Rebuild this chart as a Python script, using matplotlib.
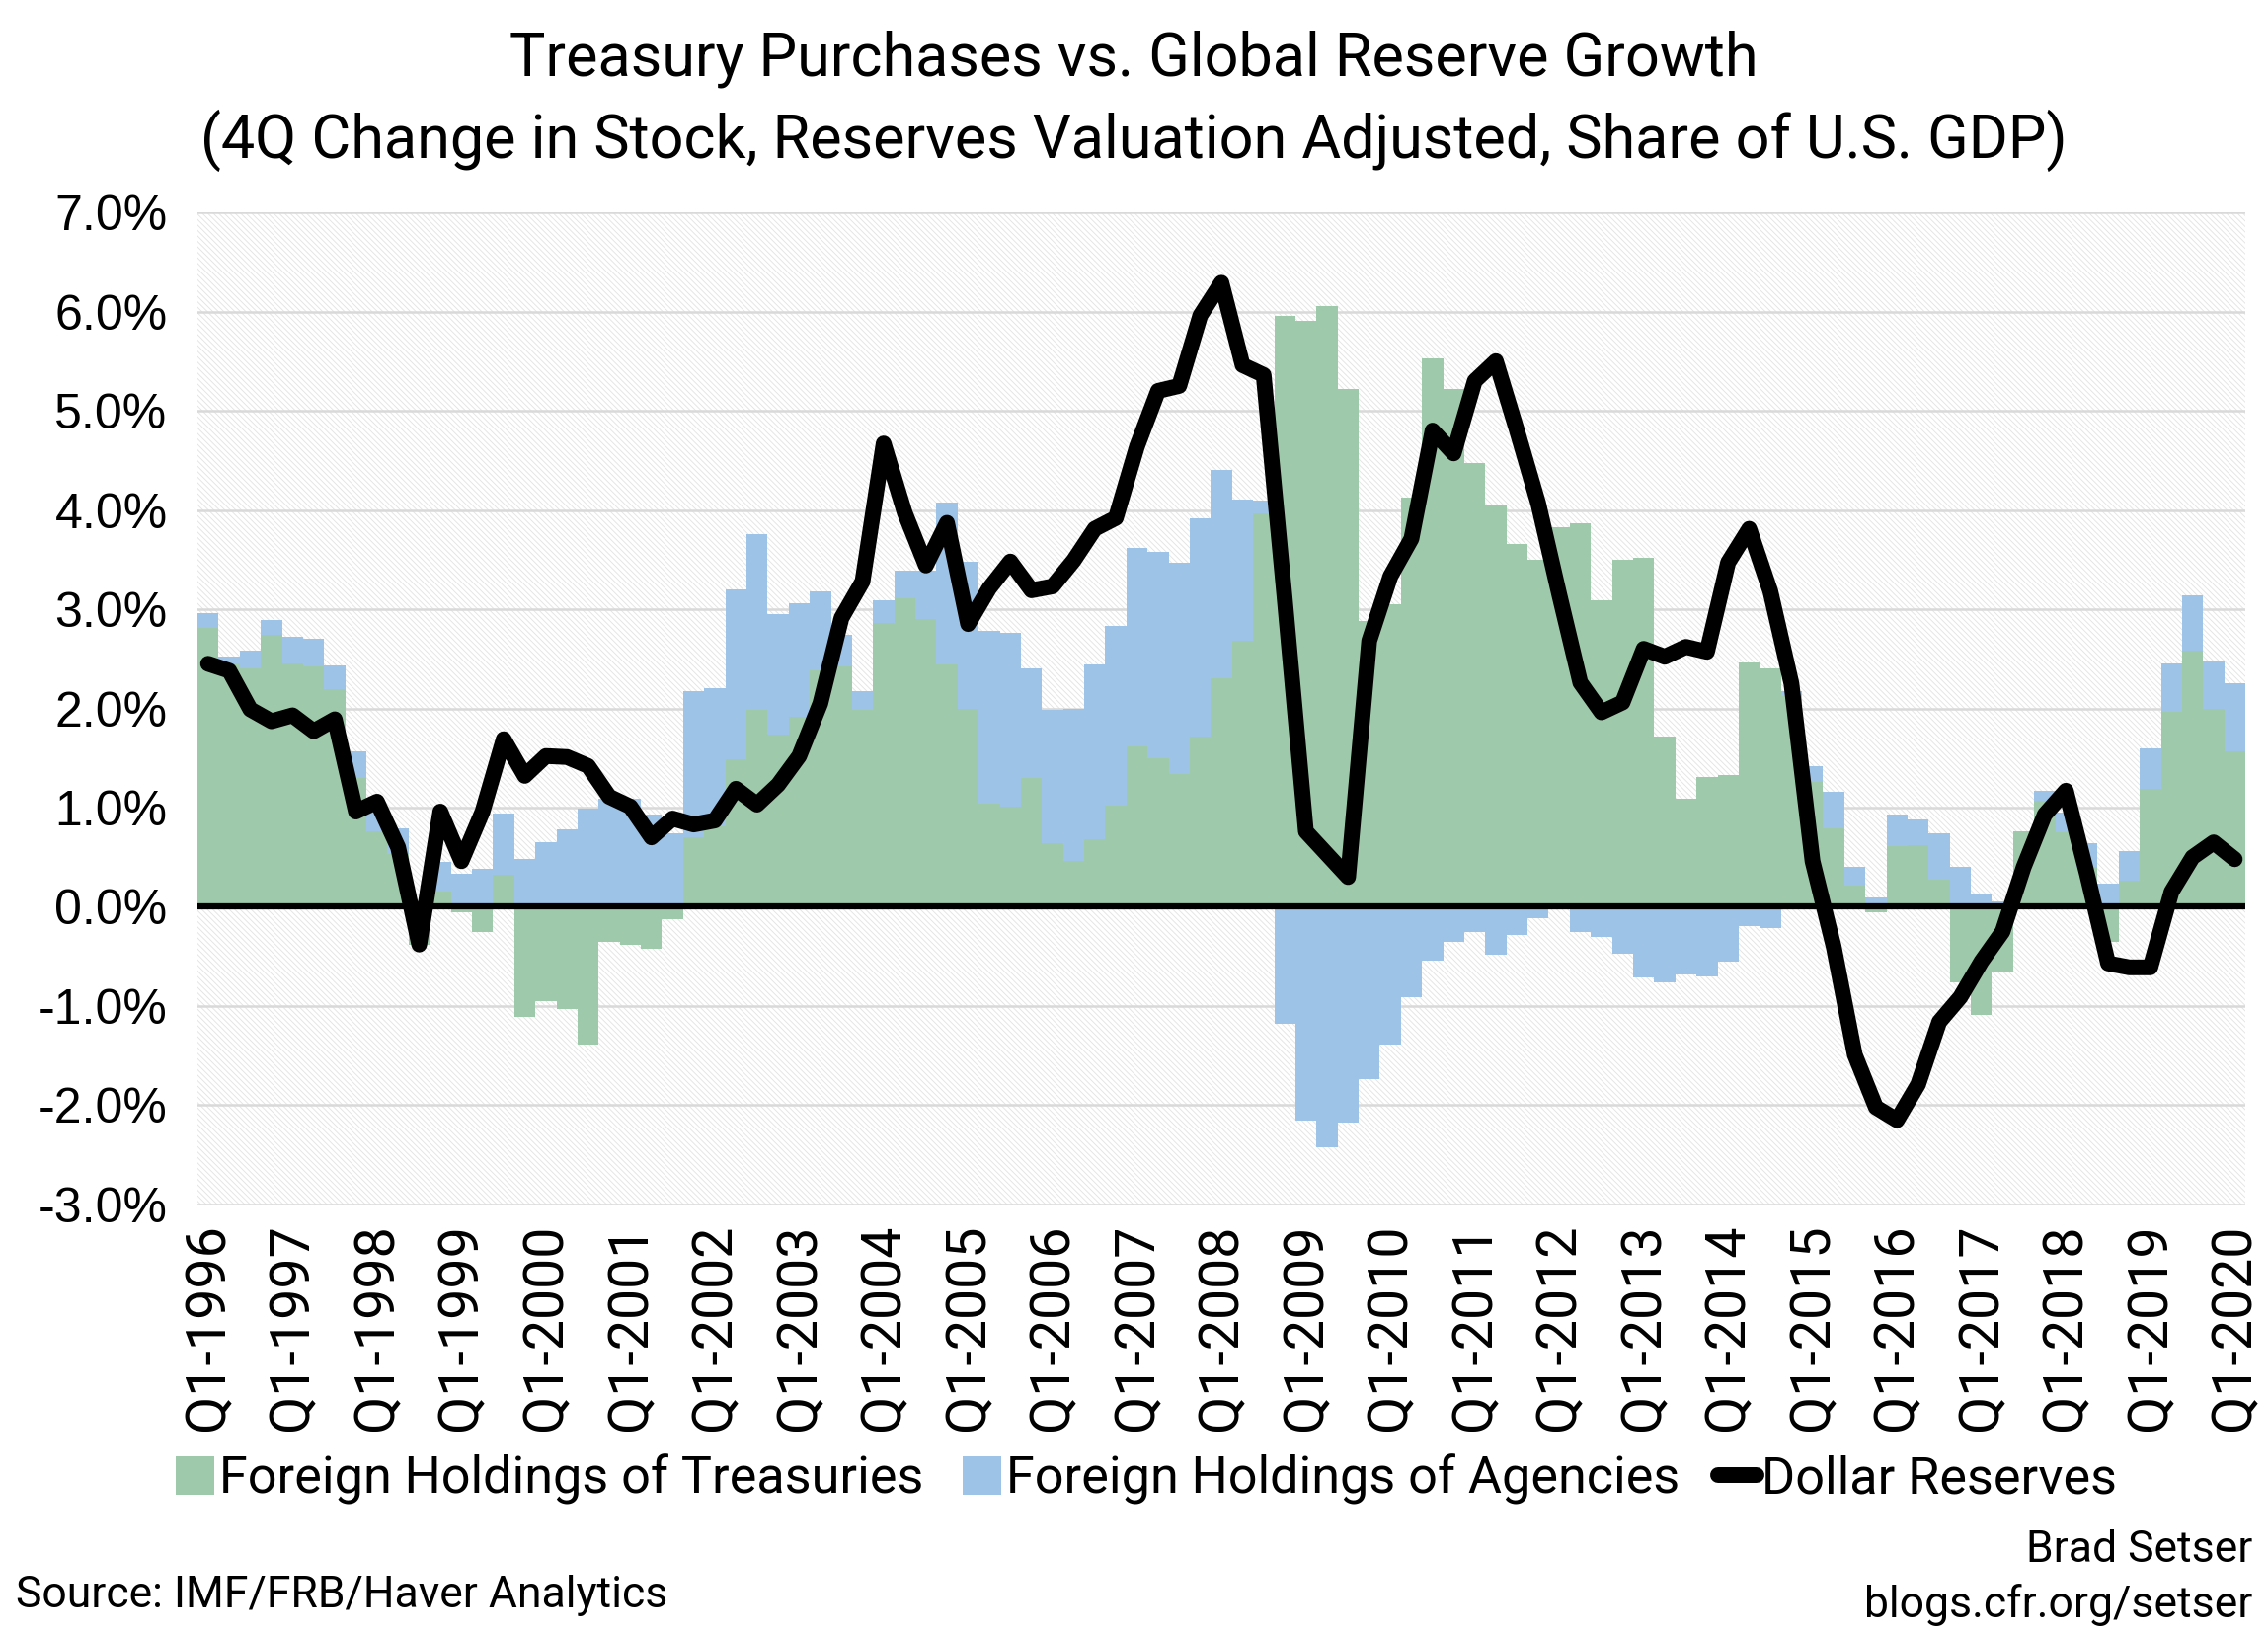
import matplotlib
matplotlib.use("Agg")
import matplotlib.pyplot as plt
from matplotlib.patches import Patch, Rectangle
from matplotlib.lines import Line2D

# 4Q change, share of US GDP (%), quarterly Q1-1996 .. Q1-2020
treasuries = [2.81, 2.45, 2.40, 2.74, 2.45, 2.42, 2.19, 1.30, 0.76, 0.53,
              -0.38, 0.15, -0.05, -0.25, 0.32, -1.11, -0.95, -1.03, -1.39, -0.35,
              -0.38, -0.42, -0.12, 0.70, 0.81, 1.49, 1.99, 1.74, 1.92, 2.38,
              2.42, 1.99, 2.86, 3.11, 2.90, 2.44, 2.00, 1.04, 1.01, 1.30,
              0.64, 0.46, 0.68, 1.02, 1.62, 1.50, 1.34, 1.72, 2.30, 2.68,
              3.97, 5.96, 5.91, 6.05, 5.22, 2.88, 3.05, 4.12, 5.53, 5.22,
              4.47, 4.05, 3.66, 3.50, 3.83, 3.87, 3.09, 3.50, 3.52, 1.72,
              1.09, 1.31, 1.33, 2.46, 2.40, 2.12, 1.26, 0.79, 0.21, -0.05,
              0.61, 0.62, 0.27, -0.76, -1.09, -0.66, 0.76, 1.07, 0.75, 0.40,
              -0.35, 0.26, 1.19, 1.97, 2.58, 2.00, 1.57]
agencies = [0.15, 0.07, 0.18, 0.15, 0.27, 0.28, 0.24, 0.27, 0.27, 0.26,
            0.03, 0.30, 0.33, 0.38, 0.62, 0.48, 0.65, 0.78, 0.99, 1.09,
            1.09, 0.93, 0.74, 1.47, 1.39, 1.71, 1.77, 1.21, 1.14, 0.80,
            0.32, 0.18, 0.23, 0.28, 0.49, 1.63, 1.48, 1.74, 1.75, 1.10,
            1.35, 1.54, 1.76, 1.81, 2.00, 2.08, 2.13, 2.20, 2.10, 1.42,
            0.12, -1.18, -2.15, -2.42, -2.17, -1.74, -1.39, -0.91, -0.54, -0.35,
            -0.25, -0.48, -0.28, -0.11, -0.02, -0.25, -0.30, -0.47, -0.71, -0.76,
            -0.68, -0.70, -0.55, -0.19, -0.21, 0.05, 0.16, 0.37, 0.19, 0.09,
            0.32, 0.26, 0.47, 0.40, 0.13, 0.05, 0.00, 0.10, 0.20, 0.24,
            0.23, 0.30, 0.41, 0.48, 0.56, 0.48, 0.68]
dollar_reserves = [2.45, 2.38, 1.99, 1.87, 1.93, 1.77, 1.89, 0.96, 1.06, 0.60,
                   -0.38, 0.96, 0.46, 0.96, 1.69, 1.32, 1.52, 1.51, 1.42, 1.11,
                   1.01, 0.70, 0.89, 0.83, 0.87, 1.19, 1.03, 1.23, 1.52, 2.05,
                   2.91, 3.28, 4.67, 3.97, 3.44, 3.87, 2.85, 3.21, 3.48, 3.19,
                   3.23, 3.49, 3.81, 3.92, 4.64, 5.20, 5.25, 5.96, 6.29, 5.46,
                   5.36, 3.10, 0.76, 0.53, 0.30, 2.68, 3.33, 3.71, 4.80, 4.57,
                   5.30, 5.50, 4.80, 4.07, 3.15, 2.26, 1.96, 2.06, 2.60, 2.52,
                   2.62, 2.57, 3.47, 3.81, 3.18, 2.25, 0.46, -0.40, -1.49, -2.02,
                   -2.15, -1.79, -1.16, -0.91, -0.55, -0.25, 0.40, 0.93, 1.17, 0.33,
                   -0.57, -0.61, -0.61, 0.15, 0.50, 0.65, 0.48]
years = list(range(1996, 2021))
tick_labels = [f"Q1-{y}" for y in years]

green = "#9ecaab"
blue = "#9dc3e6"
narrow = ["Liberation Sans Narrow", "Roboto", "DejaVu Sans"]

plt.rcParams["hatch.linewidth"] = 0.6
plt.rcParams["hatch.color"] = "#e2e2e2"

fig = plt.figure(figsize=(22.97, 16.54), dpi=100)
ax = fig.add_axes([0.0871, 0.2624, 0.9029, 0.6076])

x = list(range(len(treasuries)))
ag_bottom = [max(t, 0) if a >= 0 else min(t, 0) for t, a in zip(treasuries, agencies)]

# hatched plot background
ax.add_patch(Rectangle((0, 0), 1, 1, transform=ax.transAxes, facecolor="white",
                       edgecolor="#e2e2e2", hatch="\\" * 6, lw=0, zorder=0))
for v in range(-3, 8):
    if v != 0:
        ax.axhline(v, color="#d9d9d9", lw=1.8, zorder=1)

ax.bar(x, treasuries, width=1.0, color=green, lw=0, zorder=2)
ax.bar(x, agencies, width=1.0, bottom=ag_bottom, color=blue, lw=0, zorder=2)
ax.axhline(0, color="black", lw=4.5, zorder=3)
ax.plot(x, dollar_reserves, color="black", lw=11.5, solid_joinstyle="round",
        solid_capstyle="round", zorder=4)

ax.set_xlim(-0.5, len(x) - 0.5)
ax.set_ylim(-3, 7)
ax.set_yticks(range(-3, 8))
ax.set_yticklabels([f"{v:.1f}%" for v in range(-3, 8)], fontsize=36,
                   family=["Liberation Sans", "DejaVu Sans"])
ax.set_xticks(x[::4])
ax.set_xticklabels(tick_labels, rotation=90, fontsize=40, family=narrow)
ax.tick_params(length=0, pad=14)
ax.tick_params(axis="y", pad=22)
for s in ax.spines.values():
    s.set_visible(False)

fig.text(0.5, 0.964, "Treasury Purchases vs. Global Reserve Growth",
         ha="center", va="center", fontsize=44, family=narrow)
fig.text(0.5, 0.914, "(4Q Change in Stock, Reserves Valuation Adjusted, Share of U.S. GDP)",
         ha="center", va="center", fontsize=44, family=narrow)

handles = [Patch(facecolor=green, lw=0), Patch(facecolor=blue, lw=0),
           Line2D([], [], color="black", lw=11.5, solid_capstyle="round")]
names = ["Foreign Holdings of Treasuries", "Foreign Holdings of Agencies", "Dollar Reserves"]
fig.legend(handles, names, loc="center", bbox_to_anchor=(0.5055, 0.094), ncol=3,
           frameon=False, prop={"family": narrow, "size": 37.5}, handlelength=0.75,
           handleheight=0.75, handletextpad=0.1, columnspacing=0.75)

fig.text(0.007, 0.023, "Source: IMF/FRB/Haver Analytics", ha="left", va="center",
         fontsize=32, family=narrow)
fig.text(0.993, 0.051, "Brad Setser", ha="right", va="center", fontsize=32, family=narrow)
fig.text(0.993, 0.017, "blogs.cfr.org/setser", ha="right", va="center", fontsize=32,
         family=narrow)

fig.savefig("out.png", dpi=100, facecolor="white")
